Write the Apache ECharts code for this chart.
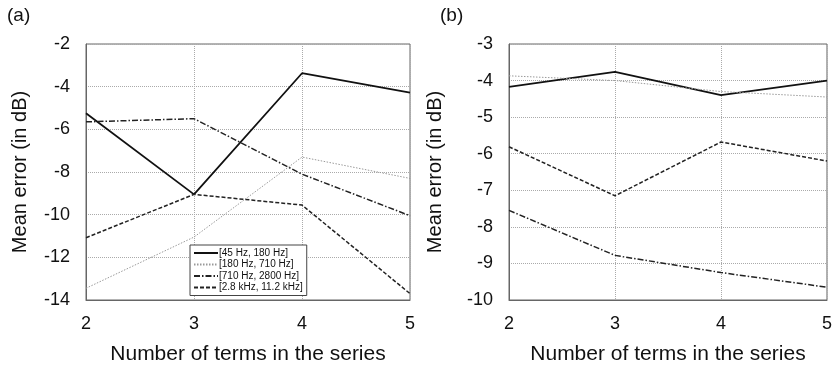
<!DOCTYPE html>
<html>
<head>
<meta charset="utf-8">
<script src="https://cdn.jsdelivr.net/npm/echarts@6/dist/echarts.min.js"></script>
<style>
  html, body { margin: 0; padding: 0; background: #fff; }
  #chart { width: 835px; height: 371px; }
</style>
</head>
<body>
<div id="chart"></div>
<script>
// x values: number of terms in the series
var termCounts = [2, 3, 4, 5]

// panel (a)
var a45_180 = [-5.25, -9.05, -3.37, -4.28]
var a180_710 = [-13.45, -11.05, -7.3, -8.3]
var a710_2800 = [-5.65, -5.5, -8.1, -10.05]
var a2800_11200 = [-11.08, -9.05, -9.55, -13.7]

// panel (b)
var b45_180 = [-4.17, -3.76, -4.4, -4.0]
var b180_710 = [-3.87, -4.0, -4.3, -4.45]
var b710_2800 = [-7.55, -8.78, -9.25, -9.65]
var b2800_11200 = [-5.81, -7.15, -5.68, -6.2]

var bandNames = ['[45 Hz, 180 Hz]', '[180 Hz, 710 Hz]', '[710 Hz, 2800 Hz]', '[2.8 kHz, 11.2 kHz]']

var styles = [
  { color: '#111', width: 1.8, type: 'solid' },
  { color: '#999', width: 1, type: [1.5, 1.5] },
  { color: '#222', width: 1.5, type: [6, 2, 1.5, 2] },
  { color: '#222', width: 1.5, type: [4, 2] },
]

function pairs(ys) {
  return termCounts.map(function (x, i) { return [x, ys[i]] })
}

function makeSeries(list, idx) {
  return list.map(function (ys, i) {
    return {
      name: bandNames[i],
      type: 'line',
      xAxisIndex: idx,
      yAxisIndex: idx,
      symbol: 'none',
      silent: true,
      lineStyle: styles[i],
      itemStyle: { color: styles[i].color },
      data: pairs(ys),
    }
  })
}

var font = 'Liberation Sans, Arial, sans-serif'

function xAxis(idx) {
  return {
    type: 'value',
    gridIndex: idx,
    min: 2,
    max: 5,
    interval: 1,
    name: 'Number of terms in the series',
    nameLocation: 'middle',
    nameGap: 44,
    nameTextStyle: { fontFamily: font, fontSize: 21, color: '#111' },
    axisLine: { lineStyle: { color: '#666' } },
    axisTick: { show: false },
    axisLabel: { margin: 15, fontFamily: font, fontSize: 18, color: '#111' },
    splitLine: { show: true, lineStyle: { color: '#aaa', type: [1, 1] } },
  }
}

function yAxis(idx, min, max, step, gap) {
  return {
    type: 'value',
    gridIndex: idx,
    min: min,
    max: max,
    interval: step,
    name: 'Mean error (in dB)',
    nameLocation: 'middle',
    nameGap: gap,
    nameTextStyle: { fontFamily: font, fontSize: 20, color: '#111' },
    axisLine: { show: true, lineStyle: { color: '#666' } },
    axisTick: { show: false },
    axisLabel: { margin: 16, fontFamily: font, fontSize: 18, color: '#111' },
    splitLine: { show: true, lineStyle: { color: '#aaa', type: [1, 1] } },
  }
}

var chart = echarts.init(document.getElementById('chart'))
chart.setOption({
  animation: false,
  title: [
    { text: '(a)', left: 7, top: 6, padding: 0, textStyle: { fontFamily: font, fontSize: 19, fontWeight: 'normal', color: '#111' } },
    { text: '(b)', left: 440, top: 6, padding: 0, textStyle: { fontFamily: font, fontSize: 19, fontWeight: 'normal', color: '#111' } },
  ],
  grid: [
    { left: 86, top: 44, width: 324, height: 256, show: true, borderColor: '#666', borderWidth: 1 },
    { left: 509, top: 44, width: 325, height: 256, show: true, borderColor: '#666', borderWidth: 1 },
  ],
  xAxis: [xAxis(0), xAxis(1)],
  yAxis: [yAxis(0, -14, -2, 2, 56), yAxis(1, -10, -3, 1, 64)],
  legend: {
    orient: 'vertical',
    left: 190,
    top: 245,
    data: bandNames,
    itemWidth: 24,
    itemHeight: 11,
    itemGap: 1.5,
    padding: [3, 4, 3, 3],
    backgroundColor: '#fff',
    borderColor: '#444',
    borderWidth: 1,
    borderRadius: 0,
    selectedMode: false,
    itemStyle: { opacity: 0 },
    textStyle: { fontFamily: font, fontSize: 10, color: '#111', padding: [0, 0, 0, -4] },
  },
  series: makeSeries([a45_180, a180_710, a710_2800, a2800_11200], 0)
    .concat(makeSeries([b45_180, b180_710, b710_2800, b2800_11200], 1)),
})
</script>
</body>
</html>
